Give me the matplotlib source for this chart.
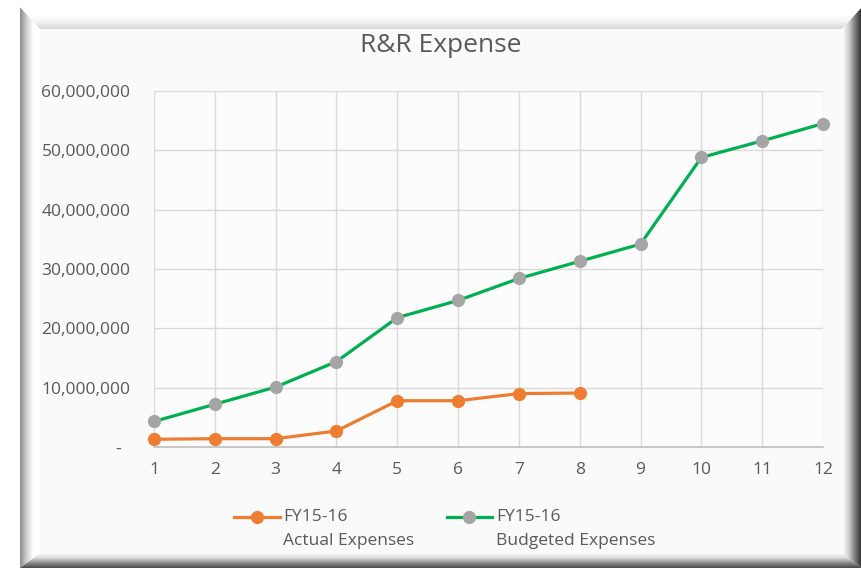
import numpy as np
import matplotlib
matplotlib.use("Agg")
import matplotlib.pyplot as plt
from matplotlib.patches import Polygon, Rectangle
from matplotlib.colors import LinearSegmentedColormap
from matplotlib.lines import Line2D

months = [1, 2, 3, 4, 5, 6, 7, 8, 9, 10, 11, 12]
actual_months = [1, 2, 3, 4, 5, 6, 7, 8]
actual = [1.3e6, 1.4e6, 1.4e6, 2.7e6, 7.8e6, 7.8e6, 9.0e6, 9.1e6]
budgeted = [4.3e6, 7.2e6, 10.1e6, 14.4e6, 21.8e6, 24.7e6, 28.4e6, 31.3e6,
            34.2e6, 48.8e6, 51.6e6, 54.5e6]
yticks = [0, 10e6, 20e6, 30e6, 40e6, 50e6, 60e6]
ytick_labels = ["-  ", "10,000,000", "20,000,000", "30,000,000",
                "40,000,000", "50,000,000", "60,000,000"]
title = "R&R Expense"
legend_first = ["FY15-16", "FY15-16"]
legend_second = ["Actual Expenses", "Budgeted Expenses"]

plt.rcParams['font.family'] = ['Open Sans', 'DejaVu Sans']
W, H = 862, 568
fig = plt.figure(figsize=(W / 100, H / 100), dpi=100)
fig.patch.set_facecolor("white")

# ---- bevel frame ----
bg = fig.add_axes([0, 0, 1, 1], zorder=-10)
bg.set_xlim(0, W)
bg.set_ylim(H, 0)
bg.axis("off")
L, T, R, B = 20, 7, 862, 568
bw_l, bw_t, bw_r, bw_b = 20, 22, 20, 15
bg.add_patch(Rectangle((L + bw_l, T + bw_t), (R - bw_r) - (L + bw_l),
                       (B - bw_b) - (T + bw_t), facecolor="#fafafa",
                       edgecolor="none"))


def grad_poly(pts, colors, horizontal, x0, x1):
    poly = Polygon(pts, closed=True, facecolor="none", edgecolor="none")
    bg.add_patch(poly)
    cmap = LinearSegmentedColormap.from_list("g", colors)
    g = np.linspace(0, 1, 64)
    if horizontal:
        img = g[None, :]
        ext = (x0, x1, B, T)
    else:
        img = g[:, None]
        ext = (L, R, x0, x1)
    im = bg.imshow(img, cmap=cmap, extent=ext, aspect="auto",
                   interpolation="bilinear", origin="upper")
    im.set_clip_path(poly)


# left bevel: grey outer -> white inner
grad_poly([(L, T), (L + bw_l, T + bw_t), (L + bw_l, B - bw_b), (L, B)],
          ["#8c8c8c", "#d0d0d0", "#ffffff", "#ffffff"], True, L, L + bw_l)
# top bevel (thin grey line then white)
grad_poly([(L, T), (R, T), (R - bw_r, T + bw_t), (L + bw_l, T + bw_t)],
          ["#ffffff", "#ffffff", "#f4f4f4", "#d8d8d8"], False, T + bw_t, T)
# right bevel: white inner -> dark outer
grad_poly([(R, T), (R, B), (R - bw_r, B - bw_b), (R - bw_r, T + bw_t)],
          ["#ffffff", "#d0d0d0", "#7a7a7a", "#2a2a2a"], True, R - bw_r, R)
# bottom bevel
grad_poly([(L, B), (R, B), (R - bw_r, B - bw_b), (L + bw_l, B - bw_b)],
          ["#fafafa", "#d8d8d8", "#8a8a8a", "#4a4a4a"], False, B, B - bw_b)

# ---- chart ----
ax = fig.add_axes([154 / W, 1 - 447 / H, (823 - 154) / W, (447 - 91) / H])
ax.set_facecolor("#fcfcfc")
orange = "#ED7D31"
green = "#00B050"
grey = "#A5A5A5"
ax.plot(actual_months, actual, color=orange, lw=2.3, marker="o", ms=8.5,
        mfc=orange, mec=orange, zorder=3, solid_capstyle="round")
ax.plot(months, budgeted, color=green, lw=2.3, marker="o", ms=8.5,
        mfc=grey, mec=grey, zorder=3, solid_capstyle="round")
ax.set_xlim(1, 12)
ax.set_ylim(0, 60e6)
ax.set_xticks(months)
ax.set_xticklabels([str(m) for m in months])
ax.set_yticks(yticks)
ax.set_yticklabels(ytick_labels)
ax.grid(True, color="#d9d9d9", lw=1)
ax.set_axisbelow(True)
for s in ["top", "right", "left"]:
    ax.spines[s].set_visible(False)
ax.spines["bottom"].set_color("#bfbfbf")
ax.spines["bottom"].set_linewidth(1.2)
ax.tick_params(length=0, colors="#595959", labelsize=12.5)
ax.tick_params(axis="y", pad=17)
ax.tick_params(axis="x", pad=11)
for ln in ax.lines:
    ln.set_clip_on(False)

fig.text(441 / W, 1 - 45 / H, title, ha="center", va="center",
         fontsize=19, color="#595959")

# ---- legend (drawn in figure pixel space) ----
leg_specs = [(234, 280, 283, orange, orange), (447, 492, 496, green, grey)]
for (x0, x1, xt, lc, mc), l1, l2 in zip(leg_specs, legend_first, legend_second):
    yf = 1 - 517 / H
    fig.add_artist(Line2D([x0 / W, x1 / W], [yf, yf], transform=fig.transFigure,
                          color=lc, lw=2.3))
    fig.add_artist(Line2D([(x0 + x1) / 2 / W], [yf], transform=fig.transFigure,
                          color=lc, marker="o", ms=8.5, mfc=mc, mec=mc, lw=0))
    fig.text(xt / W, yf, l1, ha="left", va="center", fontsize=12.5, color="#595959")
    fig.text(xt / W, 1 - 541 / H, l2, ha="left", va="center", fontsize=12.5,
             color="#595959")

fig.savefig("out.png", dpi=100)
